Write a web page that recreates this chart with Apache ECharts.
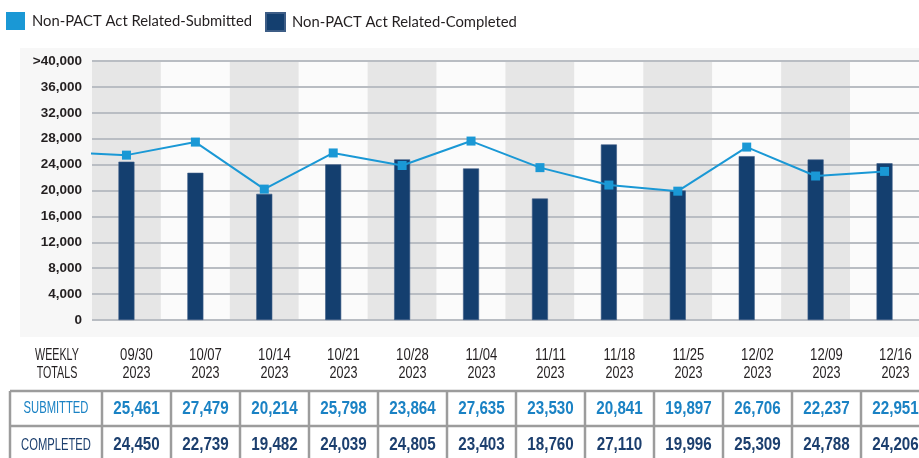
<!DOCTYPE html>
<html><head><meta charset="utf-8">
<script src="https://cdn.jsdelivr.net/npm/echarts@6/dist/echarts.min.js"></script>
<style>html,body{margin:0;padding:0;background:#fff}#c{width:919px;height:458px}</style>
</head><body><div id="c"></div>
<script>
const weeks = ['09/30','10/07','10/14','10/21','10/28','11/04','11/11','11/18','11/25','12/02','12/09','12/16'];
const years = ['2023','2023','2023','2023','2023','2023','2023','2023','2023','2023','2023','2023'];
const submitted = [25461,27479,20214,25798,23864,27635,23530,20841,19897,26706,22237,22951];
const completed = [24450,22739,19482,24039,24805,23403,18760,27110,19996,25309,24788,24206];
const prevWeekSubmitted = 25970; // estimated: line enters from the left edge
const seriesNames = ['Non-PACT Act Related-Submitted','Non-PACT Act Related-Completed'];
const rowLabels = ['SUBMITTED','COMPLETED'];
const headerLabel = ['WEEKLY','TOTALS'];

const SANS = '"Liberation Sans",Arial,sans-serif';
const C_SUB = '#1a98d5', C_COMP = '#143f6f', C_SUB_TXT = '#1a82c4', C_COMP_TXT = '#1c3f6e';

// table layout
const T = {labelL: 10, colL: 102, colW: 69, headY1: 355, headY2: 373, top: 391, mid: 426, bot: 462, border: '#9c9c9c'};
const g = [];
g.push({type:'rect', z:-100, shape:{x:20,y:48,width:920,height:289}, style:{fill:'#f7f7f7'}});
function txt(t,x,y,font,fill,sx){
  g.push({type:'text', z:10, x:x, y:y, scaleX:sx, scaleY:1,
    style:{text:t,x:0,y:0,font:font,fill:fill,align:'center',verticalAlign:'middle',textAlign:'center',textVerticalAlign:'middle'}});
}
txt(headerLabel[0], 57, T.headY1, '17px '+SANS, '#231f20', 0.63);
txt(headerLabel[1], 57, T.headY2, '17px '+SANS, '#231f20', 0.63);
txt(rowLabels[0], 56, (T.top+T.mid)/2, '17px '+SANS, C_SUB_TXT, 0.66);
txt(rowLabels[1], 56, (T.mid+T.bot)/2+1, '17px '+SANS, C_COMP_TXT, 0.66);
const fmt = v => v.toLocaleString('en-US');
weeks.forEach((w,i)=>{
  const cx = T.colL + T.colW*(i+0.5);
  txt(w, cx, T.headY1, '17px '+SANS, '#231f20', 0.77);
  txt(years[i], cx, T.headY2, '17px '+SANS, '#231f20', 0.74);
  txt(fmt(submitted[i]), cx, (T.top+T.mid)/2, 'bold 19px '+SANS, C_SUB_TXT, 0.8);
  txt(fmt(completed[i]), cx, (T.mid+T.bot)/2+1, 'bold 19px '+SANS, C_COMP_TXT, 0.8);
});
function ln(x1,y1,x2,y2){g.push({type:'line', z:5, shape:{x1,y1,x2,y2}, style:{stroke:T.border,lineWidth:2.5}});}
const tRight = T.colL + T.colW*weeks.length;
[T.top,T.mid,T.bot].forEach(y=>ln(T.labelL,y,tRight,y));
ln(T.labelL,T.top,T.labelL,T.bot);
for(let i=0;i<=weeks.length;i++){const x=T.colL+T.colW*i; ln(x,T.top,x,T.bot);}

const legendBase = {top:12, padding:0, itemWidth:19, itemHeight:18, icon:'rect',
  textStyle:{fontFamily:'Lato,sans-serif', fontSize:14.8, color:'#231f20', padding:[0,0,0,2]}};

const chart = echarts.init(document.getElementById('c'), null, {renderer:'canvas'});
chart.setOption({
  animation:false,
  backgroundColor:'#ffffff',
  legend:[
    Object.assign({left:6, data:[seriesNames[0]]}, legendBase),
    Object.assign({left:265, data:[seriesNames[1]]}, legendBase)
  ],
  grid:{left:92, top:61, width:840, height:259, containLabel:false},
  xAxis:[
    {type:'category', data:weeks, boundaryGap:true, z:0,
     axisLine:{show:false}, axisTick:{show:false}, axisLabel:{show:false},
     splitArea:{show:true, areaStyle:{color:['#e6e6e6','#fbfbfb']}}},
    {type:'value', min:0, max:weeks.length, show:false, position:'top'}
  ],
  yAxis:{type:'value', min:0, max:40000, interval:4000, z:1,
    axisLine:{show:false}, axisTick:{show:false},
    axisLabel:{margin:10, color:'#231f20', fontFamily:SANS, fontWeight:'bold', fontSize:13.5,
      formatter:v=> v===40000 ? '>40,000' : fmt(v)},
    splitLine:{lineStyle:{color:'#b9bdc3', width:2}}},
  graphic:g,
  series:[
    {name:seriesNames[1], type:'bar', xAxisIndex:0, data:completed, barWidth:16,
     itemStyle:{color:C_COMP, borderColor:'#3d5d86', borderWidth:0.6}, z:3},
    {name:seriesNames[0], type:'line', xAxisIndex:1, clip:true,
     data:[{value:[-0.5,prevWeekSubmitted], symbol:'none'}].concat(submitted.map((v,i)=>[i+0.5,v])),
     symbol:'rect', symbolSize:9, lineStyle:{color:C_SUB,width:2}, itemStyle:{color:C_SUB}, z:4}
  ]
});
</script></body></html>
